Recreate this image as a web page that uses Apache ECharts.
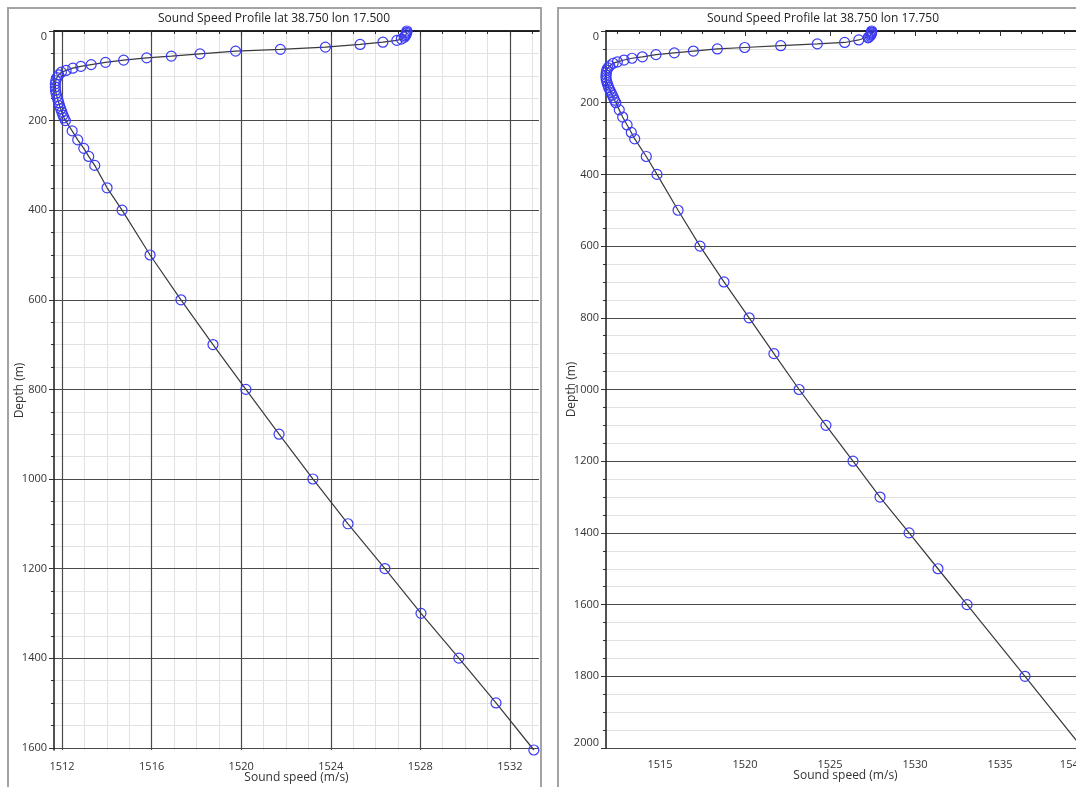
<!DOCTYPE html>
<html>
<head>
<meta charset="utf-8">
<script src="https://cdn.jsdelivr.net/npm/echarts@6/dist/echarts.min.js"></script>
<style>
html,body{margin:0;padding:0;background:#fff;}
#chart{width:1076px;height:787px;}
</style>
</head>
<body>
<div id="chart"></div>
<script>
// ---- Data ----
const titleLeft = 'Sound Speed Profile lat 38.750 lon 17.500';
const titleRight = 'Sound Speed Profile lat 38.750 lon 17.750';
const xName = 'Sound speed (m/s)';
const yName = 'Depth (m)';

// Left profile (lon 17.500)
const leftDepth = [0, 3, 5, 8, 11, 14, 18, 21, 25, 30, 36, 41, 45, 51, 56, 60, 65, 70, 75, 79, 83, 88,
  92, 98, 104, 111, 118, 125, 132, 139, 146, 153, 160, 167, 174, 181, 188, 194, 200,
  223, 243, 262, 280, 300, 350, 400, 500, 600, 700, 800, 900, 1000, 1100, 1200, 1300, 1400, 1500, 1605];
const leftSpeed = [1527.40, 1527.40, 1527.38, 1527.36, 1527.33, 1527.28, 1527.15, 1526.95, 1526.33, 1525.31, 1523.76, 1521.75, 1519.75, 1518.16, 1516.88, 1515.78, 1514.75, 1513.94, 1513.30, 1512.84, 1512.48, 1512.18,
  1511.97, 1511.85, 1511.77, 1511.72, 1511.70, 1511.70, 1511.71, 1511.73, 1511.77, 1511.81, 1511.85, 1511.89, 1511.94, 1511.99, 1512.04, 1512.09, 1512.15,
  1512.45, 1512.70, 1512.97, 1513.19, 1513.46, 1514.01, 1514.68, 1515.93, 1517.31, 1518.74, 1520.21, 1521.69, 1523.20, 1524.77, 1526.42, 1528.03, 1529.72, 1531.38, 1533.07];

// Right profile (lon 17.750)
const rightDepth = [0, 3, 5, 8, 11, 14, 17, 19, 25, 32, 36, 41, 46, 50, 56, 61, 66, 72, 76, 81, 86, 90,
  97, 103, 109, 116, 123, 130, 137, 144, 151, 158, 165, 172, 179, 186, 193, 200,
  220, 240, 262, 283, 301, 350, 400, 500, 600, 700, 800, 900, 1000, 1100, 1200, 1300, 1400, 1500, 1600, 1800, 2000];
const rightSpeed = [1527.45, 1527.45, 1527.44, 1527.42, 1527.40, 1527.35, 1527.28, 1527.24, 1526.69, 1525.86, 1524.25, 1522.10, 1519.98, 1518.37, 1516.96, 1515.84, 1514.76, 1513.96, 1513.35, 1512.88, 1512.49, 1512.24,
  1512.04, 1511.93, 1511.87, 1511.84, 1511.82, 1511.82, 1511.84, 1511.88, 1511.93, 1511.98, 1512.05, 1512.12, 1512.19, 1512.26, 1512.32, 1512.40,
  1512.60, 1512.80, 1513.06, 1513.31, 1513.51, 1514.19, 1514.82, 1516.06, 1517.35, 1518.76, 1520.24, 1521.70, 1523.18, 1524.76, 1526.35, 1527.94, 1529.65, 1531.35, 1533.06, 1536.47, 1539.85];

// Tick values
const leftXMajor = [1512, 1516, 1520, 1524, 1528, 1532];
const leftXMinor = [1513, 1514, 1515, 1517, 1518, 1519, 1521, 1522, 1523, 1525, 1526, 1527, 1529, 1530, 1531, 1533];
const leftYMajor = [0, 200, 400, 600, 800, 1000, 1200, 1400, 1600];
const leftYMinor = [50, 100, 150, 250, 300, 350, 450, 500, 550, 650, 700, 750, 850, 900, 950, 1050, 1100, 1150, 1250, 1300, 1350, 1450, 1500, 1550];
const rightXMajor = [1515, 1520, 1525, 1530, 1535, 1540];
const rightXMinor = [1512.5, 1513.75, 1516.25, 1517.5, 1518.75, 1521.25, 1522.5, 1523.75, 1526.25, 1527.5, 1528.75, 1531.25, 1532.5, 1533.75, 1536.25, 1537.5, 1538.75];
const rightYMajor = [0, 200, 400, 600, 800, 1000, 1200, 1400, 1600, 1800, 2000];
const rightYMinor = [50, 100, 150, 250, 300, 350, 450, 500, 550, 650, 700, 750, 850, 900, 950, 1050, 1100, 1150, 1250, 1300, 1350, 1450, 1500, 1550, 1650, 1700, 1750, 1850, 1900, 1950];

// Axis extents
const leftXRange = [1511.64, 1533.3];
const leftYRange = [0, 1605];
const rightXRange = [1511.82, 1540.0];
const rightYRange = [0, 2000];

// ---- Styling ----
const FONT = '"Open Sans", "Noto Sans", sans-serif';
const labelStyle = { color: '#333', fontSize: 11, fontFamily: FONT };
const nameStyle = { color: '#333', fontSize: 12, fontFamily: FONT };
const axisBlack = { show: true, lineStyle: { color: '#1a1a1a', width: 1.5 } };
const majorGrid = { color: '#4a4a4a', width: 1.2 };
const minorGrid = { color: '#e2e2e2', width: 1 };
const plain = v => String(v);

function pairs(xs, ys) { return xs.map((x, i) => [x, ys[i]]); }

function xMain(gridIndex, range, major, showSplit, alignMax) {
  const label = { show: true, customValues: major, margin: 11, formatter: plain, ...labelStyle };
  if (alignMax) label.alignMaxLabel = alignMax;
  return {
    type: 'value', gridIndex, position: 'bottom', min: range[0], max: range[1], z: 3,
    axisLine: axisBlack,
    axisTick: { show: true, inside: false, length: 5, customValues: major, lineStyle: { color: '#333' } },
    axisLabel: label,
    splitLine: { show: showSplit, lineStyle: majorGrid },
    name: xName, nameLocation: 'middle', nameGap: 22, nameMoveOverlap: false, nameTextStyle: nameStyle
  };
}
function xMinor(gridIndex, range, minor, showSplit) {
  return {
    type: 'value', gridIndex, position: 'bottom', min: range[0], max: range[1], z: 1,
    axisLine: { show: false },
    axisTick: { show: true, inside: false, length: 3, customValues: minor, lineStyle: { color: '#333' } },
    axisLabel: { show: false },
    splitLine: { show: showSplit, lineStyle: minorGrid }
  };
}
function xTop(gridIndex, range) {
  return {
    type: 'value', gridIndex, position: 'top', min: range[0], max: range[1], z: 3,
    axisLine: axisBlack, axisTick: { show: false }, axisLabel: { show: false }, splitLine: { show: false }
  };
}
function yMain(gridIndex, range, major, vMax) {
  const label = { show: true, customValues: major, margin: 7, formatter: plain, verticalAlignMinLabel: 'top', ...labelStyle };
  if (vMax) label.verticalAlignMaxLabel = vMax;
  return {
    type: 'value', gridIndex, position: 'left', inverse: true, min: range[0], max: range[1], z: 3,
    axisLine: axisBlack,
    axisTick: { show: true, inside: false, length: 5, customValues: major, lineStyle: { color: '#333' } },
    axisLabel: label,
    splitLine: { show: true, lineStyle: majorGrid },
    name: yName, nameLocation: 'middle', nameGap: 28, nameRotate: 90, nameMoveOverlap: false, nameTextStyle: nameStyle
  };
}
function yMinor(gridIndex, range, minor) {
  return {
    type: 'value', gridIndex, position: 'left', inverse: true, min: range[0], max: range[1], z: 1,
    axisLine: { show: false },
    axisTick: { show: true, inside: false, length: 3, customValues: minor, lineStyle: { color: '#333' } },
    axisLabel: { show: false },
    splitLine: { show: true, lineStyle: minorGrid }
  };
}
function profileSeries(xi, yi, data) {
  return {
    type: 'line', xAxisIndex: xi, yAxisIndex: yi, data,
    symbol: 'circle', symbolSize: 10, showAllSymbol: true, z: 5,
    itemStyle: { color: 'rgba(0,0,0,0)', borderColor: '#3b3bf5', borderWidth: 1.2 },
    lineStyle: { color: '#3a3a3a', width: 1.2 },
    emphasis: { disabled: true }, animation: false, clip: true
  };
}

const chart = echarts.init(document.getElementById('chart'), null, { renderer: 'canvas' });
chart.setOption({
  backgroundColor: '#fff',
  animation: false,
  grid: [
    { left: 54, top: 31, width: 485, height: 719, containLabel: false, outerBoundsMode: 'none' },
    { left: 606, top: 31, width: 479, height: 717, containLabel: false, outerBoundsMode: 'none' }
  ],
  xAxis: [
    xMain(0, leftXRange, leftXMajor, true, null),
    xMinor(0, leftXRange, leftXMinor, true),
    xTop(0, leftXRange),
    xMain(1, rightXRange, rightXMajor, false, 'right'),
    xMinor(1, rightXRange, rightXMinor, false),
    xTop(1, rightXRange)
  ],
  yAxis: [
    yMain(0, leftYRange, leftYMajor, null),
    yMinor(0, leftYRange, leftYMinor),
    yMain(1, rightYRange, rightYMajor, 'bottom'),
    yMinor(1, rightYRange, rightYMinor)
  ],
  series: [
    profileSeries(0, 0, pairs(leftSpeed, leftDepth)),
    profileSeries(3, 2, pairs(rightSpeed, rightDepth))
  ],
  graphic: [
    { type: 'rect', shape: { x: 8, y: 8, width: 533, height: 820 }, style: { fill: 'none', stroke: '#a3a3a3', lineWidth: 2 }, z: 100, silent: true },
    { type: 'rect', shape: { x: 558, y: 8, width: 560, height: 820 }, style: { fill: 'none', stroke: '#a3a3a3', lineWidth: 2 }, z: 100, silent: true },
    { type: 'text', x: 274, y: 19, style: { text: titleLeft, fill: '#222', fontSize: 12, fontFamily: FONT, align: 'center', verticalAlign: 'middle' }, z: 100, silent: true },
    { type: 'text', x: 823, y: 19, style: { text: titleRight, fill: '#222', fontSize: 12, fontFamily: FONT, align: 'center', verticalAlign: 'middle' }, z: 100, silent: true }
  ]
});
</script>
</body>
</html>
